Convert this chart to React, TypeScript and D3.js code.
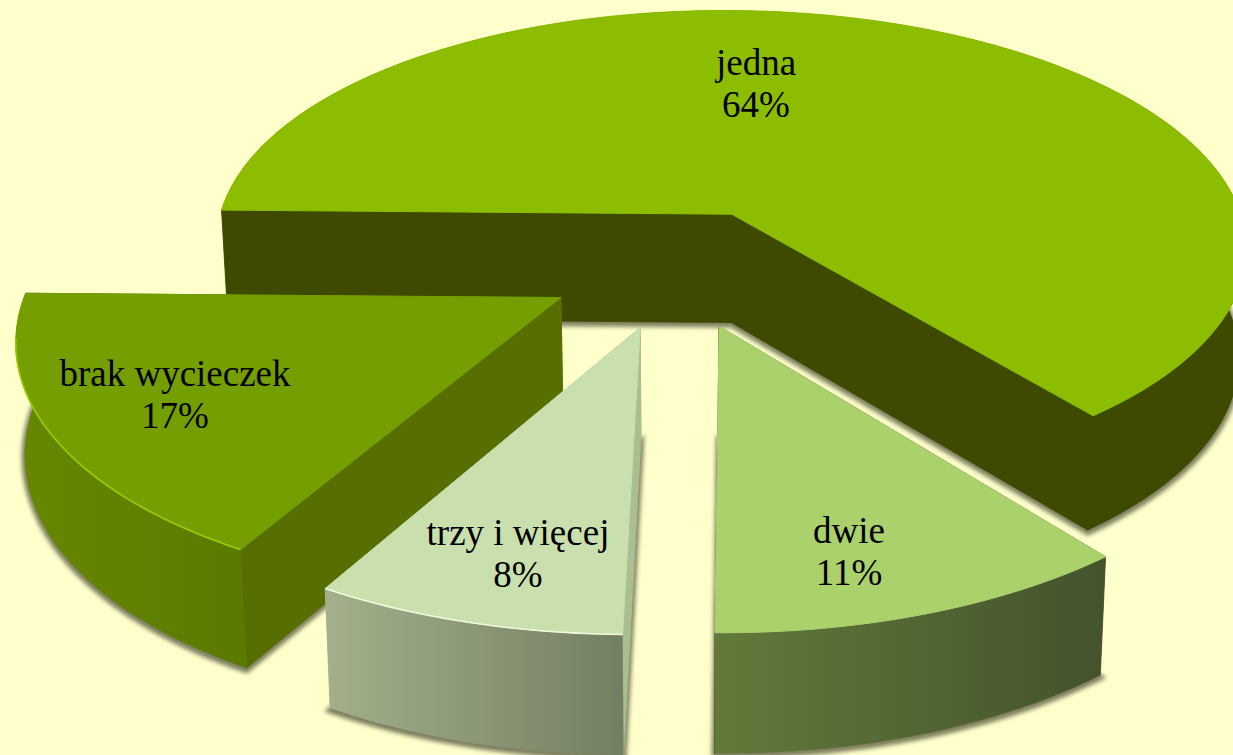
import * as d3 from "d3";

const categories = ["jedna", "dwie", "trzy i więcej", "brak wycieczek"];
const values = [64, 11, 8, 17];

// colours per slice: top, cut wall, rim wall start / end
const topColors = ["#8cbd00", "#abd16c", "#c9dfad", "#759e00"];
const cutColors = ["#3d4a00", "#44532c", "#a9bf8f", "#566f00"];
const rimFrom = ["#3d4a00", "#617a3a", "#a3b08b", "#668700"];
const rimTo = ["#3d4a00", "#44532c", "#737f62", "#5a7a00"];
const rimLight = ["none", "none", "#f0f9dc", "#9ccc00"];

const labelPos = [
  [756, 75],
  [849, 543],
  [518, 545],
  [175, 386],
];

// back to front
const drawOrder = [0, 3, 2, 1];

const WIDTH = 1233;
const HEIGHT = 755;

// projection of the pie plane, slightly in perspective
const cx = 676;
const cy = 267;
const rx = 526;
const ry = 245.7;
const persp = 0.139;
const vanishX = 745;
const explode = 0.247;
const roll = 0.008;

const project = (X: number, Y: number) => {
  const s = 1 / (1 + persp * Y);
  const x = vanishX + s * (cx - vanishX + rx * X);
  return { x, y: cy - ry * Y * s + roll * (x - cx), s };
};

const drop = (p: { x: number; y: number; s: number }): [number, number] => [
  700 + (p.x - 700) * 0.987,
  p.y + 110 * Math.sqrt(p.s),
];

const line = d3.line();

const pie = d3
  .pie<number>()
  .sort(null)
  .startAngle(-Math.PI / 2)
  .endAngle((3 * Math.PI) / 2);

const slices = pie(values).map((d, i) => {
  const mid = (d.startAngle + d.endAngle) / 2;
  const ox = explode * Math.sin(mid);
  const oy = explode * Math.cos(mid);
  const apex = project(ox, oy);
  const n = Math.ceil((d.endAngle - d.startAngle) * 40);
  const rim = d3.range(n + 1).map((k) => {
    const a = d.startAngle + ((d.endAngle - d.startAngle) * k) / n;
    return project(ox + Math.sin(a), oy + Math.cos(a));
  });
  const toXY = (p: { x: number; y: number }): [number, number] => [p.x, p.y];
  const rimTop = rim.map(toXY);
  const rimBottom = rim.map(drop);
  const first = rim[0];
  const last = rim[rim.length - 1];
  const front = rim.filter((p) => p.y > apex.y + 40).map(toXY);
  return {
    i,
    top: line([toXY(apex), ...rimTop])! + "Z",
    base: line([drop(apex), ...rimBottom])! + "Z",
    rimWall: line([...rimTop, ...[...rimBottom].reverse()])! + "Z",
    cutA: line([toXY(apex), toXY(first), drop(first), drop(apex)])! + "Z",
    cutB: line([toXY(apex), toXY(last), drop(last), drop(apex)])! + "Z",
    front: line(front)!,
  };
});

const App = () => {
  return (
    <svg
      width={WIDTH}
      height={HEIGHT}
      style={{ position: "absolute", left: 0, top: 0 }}
      fontFamily="'Liberation Serif', serif"
    >
      <defs>
        <filter id="blur" x="-10%" y="-10%" width="120%" height="120%">
          <feGaussianBlur stdDeviation="2.2" />
        </filter>
        <filter id="soft" x="-10%" y="-10%" width="120%" height="120%">
          <feGaussianBlur stdDeviation="0.6" />
        </filter>
        {slices.map((s) => (
          <linearGradient key={s.i} id={`rim${s.i}`} x1="0" x2="1" y1="0" y2="0">
            <stop offset="0" stopColor={rimFrom[s.i]} />
            <stop offset="1" stopColor={rimTo[s.i]} />
          </linearGradient>
        ))}
      </defs>
      <rect width={WIDTH} height={HEIGHT} fill="#ffffcc" />
      {drawOrder.map((k) => {
        const s = slices[k];
        return (
          <g key={s.i}>
            <path
              d={s.base}
              fill="#4a4a30"
              stroke="#4a4a30"
              strokeWidth={6}
              opacity={0.7}
              transform="translate(0,2)"
              filter="url(#blur)"
            />
            <path d={s.cutA} fill={cutColors[s.i]} stroke={cutColors[s.i]} strokeWidth={0.8} />
            <path d={s.cutB} fill={cutColors[s.i]} stroke={cutColors[s.i]} strokeWidth={0.8} />
            <path d={s.rimWall} fill={`url(#rim${s.i})`} />
            <path d={s.top} fill={topColors[s.i]} stroke={topColors[s.i]} strokeWidth={1} />
            {rimLight[s.i] !== "none" && (
              <path
                d={s.front}
                fill="none"
                stroke={rimLight[s.i]}
                strokeWidth={1.6}
                filter="url(#soft)"
              />
            )}
          </g>
        );
      })}
      {categories.map((c, i) => (
        <text key={c} fontSize={37} fill="#000" textAnchor="middle">
          <tspan x={labelPos[i][0]} y={labelPos[i][1]}>
            {c}
          </tspan>
          <tspan x={labelPos[i][0]} y={labelPos[i][1] + 42}>
            {values[i]}%
          </tspan>
        </text>
      ))}
    </svg>
  );
};

export default App;
